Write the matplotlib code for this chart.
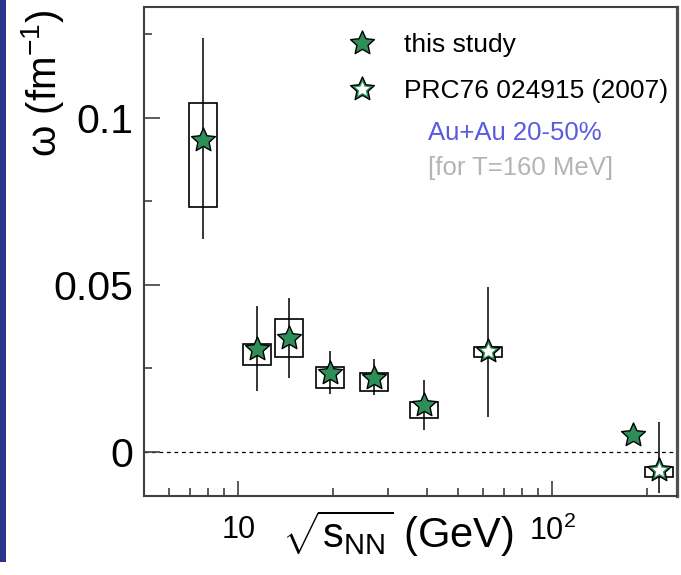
import numpy as np
import matplotlib
matplotlib.use('Agg')
import matplotlib.pyplot as plt
from matplotlib.path import Path
from matplotlib.patches import Rectangle
from matplotlib.ticker import FixedLocator, MultipleLocator, NullFormatter, FixedFormatter, LogLocator
from matplotlib.legend_handler import HandlerTuple

# ---------------- data ----------------
this_x = [7.7, 11.5, 14.5, 19.6, 27.0, 39.0, 181.0]
this_y = [0.0935, 0.0307, 0.0341, 0.0236, 0.0222, 0.0140, 0.0051]
this_stat_lo = [0.0637, 0.0182, 0.0221, 0.0174, 0.0169, 0.0064, 0.0047]
this_stat_hi = [0.1238, 0.0436, 0.0461, 0.0301, 0.0276, 0.0216, 0.0055]
this_sys_lo = [0.0732, 0.0259, 0.0282, 0.0192, 0.0183, 0.0101, np.nan]
this_sys_hi = [0.1043, 0.0322, 0.0396, 0.0253, 0.0235, 0.0149, np.nan]

prc_x = [62.4, 219.0]
prc_y = [0.0301, -0.0055]
prc_stat_lo = [0.0104, -0.0125]
prc_stat_hi = [0.0492, 0.0089]
prc_sys_lo = [0.0282, -0.0077]
prc_sys_hi = [0.0314, -0.0047]

y_ticks = [0.0, 0.05, 0.1]
y_ticklabels = ['0', '0.05', '0.1']
x_ticks = [10, 100]
x_ticklabels = ['10', r'$10^{2}$']

legend_labels = ['this study', 'PRC76 024915 (2007)']
note1 = 'Au+Au 20-50%'
note2 = '[for T=160 MeV]'

# ---------------- style ----------------
plt.rcParams['font.family'] = ['Liberation Sans', 'DejaVu Sans']
plt.rcParams['mathtext.fontset'] = 'custom'
plt.rcParams['mathtext.rm'] = 'Liberation Sans'
plt.rcParams['mathtext.it'] = 'Liberation Sans'
plt.rcParams['mathtext.bf'] = 'Liberation Sans:bold'

green = '#2d8f57'
frame = '#404040'

# star marker (fat 5-point star)
ang = np.deg2rad(90 + np.arange(10) * 36)
rad = np.where(np.arange(10) % 2 == 0, 1.0, 0.47)
verts = np.column_stack([rad * np.cos(ang), rad * np.sin(ang)])
verts = np.vstack([verts, verts[:1]])
codes = [Path.MOVETO] + [Path.LINETO] * 9 + [Path.CLOSEPOLY]
star = Path(verts, codes)

W, H = 681, 575
fig = plt.figure(figsize=(W / 100, H / 100), dpi=100)
L, R, T, B = 144, 677, 7, 496
ax = fig.add_axes([L / W, 1 - B / H, (R - L) / W, (B - T) / H])

# left dark strip (screenshot edge)
fig.patches.append(Rectangle((0, 1 - 562 / H), 6 / W, 562 / H, transform=fig.transFigure,
                             facecolor='#28358a', edgecolor='none', zorder=0))

ax.set_xscale('log')
ax.set_xlim(5, 250)
ax.set_ylim(-0.0133, 0.1332)

ax.axhline(0, color='black', lw=0.9, ls=(0, (3, 3)), zorder=1)

k = 10 ** 0.0446  # half-width of systematic boxes (in decades)


def draw_set(xs, ys, slo, shi, ylo, yhi):
    xs = np.asarray(xs)
    ys = np.asarray(ys)
    ax.errorbar(xs, ys, yerr=[ys - np.asarray(slo), np.asarray(shi) - ys], fmt='none',
                ecolor='black', elinewidth=1.1, capsize=0, zorder=2)
    for x, lo, hi in zip(xs, ylo, yhi):
        if np.isnan(lo) or np.isnan(hi):
            continue
        ax.add_patch(Rectangle((x / k, lo), x * k - x / k, hi - lo, facecolor='none',
                               edgecolor='black', lw=1.2, zorder=3))


draw_set(this_x, this_y, this_stat_lo, this_stat_hi, this_sys_lo, this_sys_hi)
draw_set(prc_x, prc_y, prc_stat_lo, prc_stat_hi, prc_sys_lo, prc_sys_hi)

ms = 18
h1, = ax.plot(this_x, this_y, ls='none', marker=star, ms=ms, mfc=green, mec='black', mew=1.0, zorder=5)
h2a, = ax.plot(prc_x, prc_y, ls='none', marker=star, ms=ms, mfc=green, mec='black', mew=1.0, zorder=5)
h2b, = ax.plot(prc_x, prc_y, ls='none', marker=star, ms=ms * 0.6, mfc='white', mec='none', zorder=6)

# axes ticks
ax.xaxis.set_major_locator(FixedLocator(x_ticks))
ax.xaxis.set_major_formatter(FixedFormatter(x_ticklabels))
ax.xaxis.set_minor_locator(LogLocator(base=10, subs=np.arange(2, 10)))
ax.xaxis.set_minor_formatter(NullFormatter())
ax.yaxis.set_major_locator(FixedLocator(y_ticks))
ax.yaxis.set_major_formatter(FixedFormatter(y_ticklabels))
ax.yaxis.set_minor_locator(MultipleLocator(0.025))

ax.tick_params(axis='both', which='both', direction='in', color=frame, width=1.2,
               top=False, right=False)
ax.tick_params(axis='y', which='major', length=11.5, labelsize=29.5, pad=8)
ax.tick_params(axis='y', which='minor', length=5.8)
ax.tick_params(axis='x', which='major', length=10.8, labelsize=22, pad=14)
ax.tick_params(axis='x', which='minor', length=5.8)

for s in ax.spines.values():
    s.set_color(frame)
    s.set_linewidth(1.5)
ax.spines['right'].set_linewidth(2.3)
ax.spines['right'].set_color('#505050')

# labels
fig.text(43 / W, 1 - 10 / H, 'ω (fm$^{-1}$)', rotation=90, ha='center', va='top', fontsize=29)
fig.text(398 / W, 1 - 548 / H, r'$\sqrt{\mathrm{s}_{\mathrm{NN}}}$ (GeV)', ha='center',
         va='baseline', fontsize=30)

leg = ax.legend([h1, (h2a, h2b)], legend_labels, handler_map={tuple: HandlerTuple(ndivide=1)},
                loc='upper left', bbox_to_anchor=((349 - L) / (R - L), 1 - (33 - T) / (B - T)),
                frameon=False, fontsize=19, handlelength=1.0, handletextpad=1.1,
                labelspacing=0.85, borderpad=0, borderaxespad=0)

ax.text((428 - L) / (R - L), (B - 133) / (B - T), note1, transform=ax.transAxes,
        ha='left', va='center', fontsize=18.5, color='#5a5ae0')
ax.text((428 - L) / (R - L), (B - 168) / (B - T), note2, transform=ax.transAxes,
        ha='left', va='center', fontsize=18.5, color='#b4b4b4')

fig.savefig('out.png', dpi=100)
